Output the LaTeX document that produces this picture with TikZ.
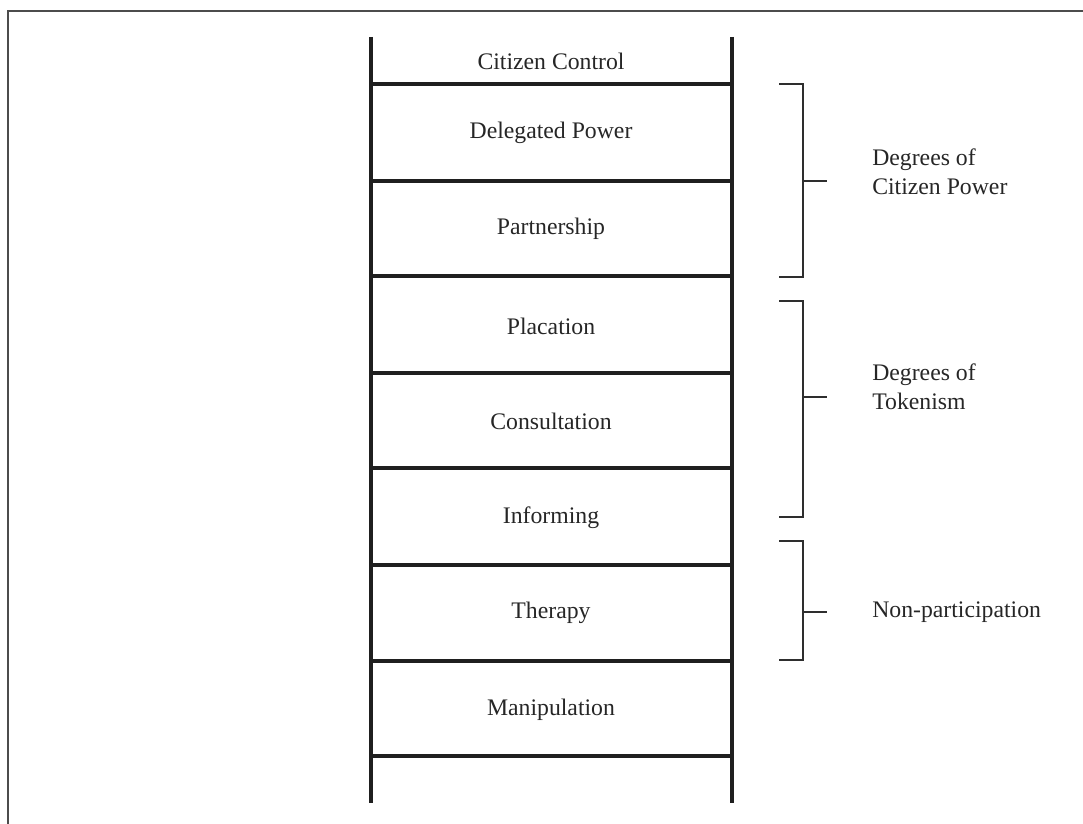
\documentclass[tikz,border=0pt]{standalone}
\usepackage{fontspec}
\setmainfont{Liberation Serif}
\begin{document}
\begin{tikzpicture}[x=0.75pt,y=-0.75pt,
  rail/.style={line width=2.7pt,black!88},
  rung/.style={line width=2.6pt,black!88},
  brk/.style={line width=2.1pt,black!82},
  lbl/.style={font=\fontsize{17.8}{21}\selectfont,text=black!85,inner sep=0pt},
  grp/.style={font=\fontsize{17.8}{21.6}\selectfont,text=black!85,inner sep=0pt,align=left,anchor=west}]
\useasboundingbox (0,0) rectangle (1083,824);
% frame (top and left edges visible)
\draw[line width=1.8pt,black!70] (8,824) -- (8,11) -- (1083,11);
% rails
\coordinate (lt) at (371,37); \coordinate (lb) at (371,803);
\coordinate (rt) at (732,37); \coordinate (rb) at (732,803);
\draw[rail] (lt) -- (lb);
\draw[rail] (rt) -- (rb);
% rungs
\foreach \y/\n in {84/r1,181/r2,276/r3,373/r4,468/r5,565/r6,661/r7,756/r8}{
  \coordinate (\n l) at (371,\y); \coordinate (\n r) at (732,\y);
  \draw[rung] (\n l) -- (\n r);
}
% labels
\node[lbl] (cc) at (551,61) {Citizen Control};
\node[lbl] (dp) at (551,133) {Delegated Power};
\node[lbl] (pa) at (551,229) {Partnership};
\node[lbl] (pl) at (551,326) {Placation};
\node[lbl] (co) at (551,421) {Consultation};
\node[lbl] (in) at (551,518) {Informing};
\node[lbl] (th) at (551,613) {Therapy};
\node[lbl] (ma) at (551,710) {Manipulation};
% brackets
\foreach \t/\b/\m/\n in {84/277/181/b1,301/517/397/b2,541/660/612/b3}{
  \coordinate (\n a) at (779,\t); \coordinate (\n b) at (803,\t);
  \coordinate (\n c) at (803,\b); \coordinate (\n d) at (779,\b);
  \coordinate (\n m) at (803,\m); \coordinate (\n t) at (827,\m);
  \draw[brk] (\n a) -- (\n b) -- (\n c) -- (\n d);
  \draw[brk] (\n m) -- (\n t);
}
\node[grp] (g1) at (872,172) {Degrees of\\Citizen Power};
\node[grp] (g2) at (872,387) {Degrees of\\Tokenism};
\node[grp] (g3) at (872,612) {Non-participation};
\end{tikzpicture}
\end{document}
